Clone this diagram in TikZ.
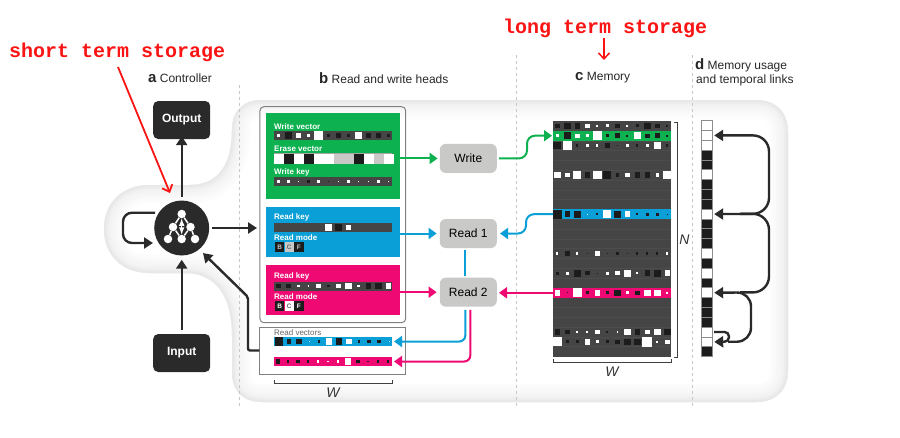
\documentclass[tikz,border=0pt]{standalone}
\usepackage{fontspec}
\setmainfont{Liberation Sans}
\setmonofont{Liberation Mono}
\usetikzlibrary{positioning,arrows.meta}

\definecolor{greenc}{HTML}{0DB14F}
\definecolor{bluec}{HTML}{0A9FD6}
\definecolor{pinkc}{HTML}{EE0A72}
\definecolor{darkc}{HTML}{2A2A2A}
\definecolor{stripc}{HTML}{454545}
\definecolor{boxc}{HTML}{C9C9C7}
\definecolor{redc}{HTML}{FA1414}
\colorlet{w}{white}
\definecolor{b}{HTML}{1C1C1C}
\definecolor{g}{HTML}{C8C8C6}

\tikzset{
    blackbox/.style={fill=darkc,rounded corners=5pt,minimum width=57pt,minimum height=38pt,inner sep=0pt,text=white,font=\fontsize{12}{14}\selectfont\bfseries},
    headbox/.style={fill=boxc,rounded corners=6pt,minimum width=57pt,minimum height=29pt,inner sep=0pt,font=\fontsize{12}{14}\selectfont},
    panel/.style={minimum width=134pt,inner sep=0pt,outer sep=0pt},
    strip/.style={minimum width=118pt,minimum height=9pt,inner sep=0pt,outer sep=0pt},
    panellabel/.style={anchor=west,inner sep=0pt,text=white,font=\fontsize{8}{9}\selectfont\bfseries},
    headlabel/.style={anchor=west,inner sep=0pt,text=black!85,font=\fontsize{12}{14}\selectfont},
    redlabel/.style={anchor=west,inner sep=0pt,text=redc,font=\fontsize{20}{22}\selectfont\ttfamily\bfseries},
    sizelabel/.style={inner sep=0pt,font=\fontsize{14}{16}\selectfont\itshape,text=black!80},
    modecell/.style={minimum size=9.4pt,inner sep=0pt,outer sep=0pt,font=\fontsize{6.5}{7}\selectfont\bfseries},
    usecell/.style={draw=black!45,line width=0.8pt,minimum width=11pt,minimum height=9.83pt,inner sep=0pt,outer sep=0pt},
    icondot/.style={circle,fill=white,minimum size=8.5pt,inner sep=0pt},
    blackarrow/.style={-{Triangle[length=9pt,width=11pt]},line width=2.4pt,draw=darkc},
    greenarrow/.style={-{Triangle[length=8pt,width=11pt]},line width=2pt,draw=greenc},
    bluearrow/.style={-{Triangle[length=8pt,width=11pt]},line width=2pt,draw=bluec},
    pinkarrow/.style={-{Triangle[length=8pt,width=11pt]},line width=2pt,draw=pinkc},
    redarrow/.style={-{Straight Barb[length=6pt,width=11pt]},line width=1.8pt,draw=redc},
    divider/.style={dashed,draw=black!22,line width=0.8pt},
    sizebar/.style={draw=black!75,line width=1pt},
}

% one row of squares, list is size/colour
\newcommand{\cellrow}[3]{
    \foreach \s/\c [count=\k from 0] in {#3}{
        \fill[\c] ({#1+10*\k-0.55*\s},{#2-0.55*\s}) rectangle ({#1+10*\k+0.55*\s},{#2+0.55*\s});
    }
}
\newcommand{\blobpath}{(262,100) -- (755,100) .. controls (776,100) and (788,112) .. (788,133) -- (788,370) .. controls (788,390) and (776,402) .. (756,402) -- (262,402) .. controls (243,402) and (232,391) .. (232,372) -- (232,335) .. controls (232,295) and (215,273) .. (185,273) -- (150,273) .. controls (122,273) and (104,255) .. (104,229) .. controls (104,203) and (122,185) .. (150,185) -- (190,185) .. controls (218,185) and (232,165) .. (232,130) .. controls (232,111) and (243,100) .. (262,100) -- cycle}

\begin{document}
\begin{tikzpicture}[x=1pt,y=-1pt]
    \useasboundingbox (0,0) rectangle (900,437);

    % background
    \fill[white] \blobpath;
    \begin{scope}
        \clip \blobpath;
        \foreach \w/\c in {36/black!1,30/black!2,24/black!3,18/black!4,13/black!5,8/black!7,4/black!9}{
            \draw[line width=\w pt,draw=\c] \blobpath;
        }
    \end{scope}

    \draw[divider] (239,85) -- (239,407);
    \draw[divider] (516,55) -- (516,407);
    \draw[divider] (692,55) -- (692,407);

    % titles
    \node[redlabel] (shortlabel) at (9,52) {short term storage};
    \node[redlabel] (longlabel) at (503,28) {long term storage};
    \node[headlabel] (titlea) at (148,78) {{\fontsize{15}{15}\selectfont\bfseries a} Controller};
    \node[headlabel] (titleb) at (319,78) {{\fontsize{15}{15}\selectfont\bfseries b} Read and write heads};
    \node[headlabel] (titlec) at (575,78) {{\fontsize{15}{15}\selectfont\bfseries c} Memory};
    \node[headlabel] (titled) at (695,65) {{\fontsize{15}{15}\selectfont\bfseries d} Memory usage};
    \node[headlabel] (titled2) at (696,80) {and temporal links};

    % controller
    \node[circle,fill=darkc,minimum size=55pt,inner sep=0pt] (ctrl) at (181.7,228) {};
    \node[blackbox] (output) at (181.7,120) {Output};
    \node[blackbox] (input) at (181.7,353) {Input};
    \node[icondot] (d1) at (181.7,214) {};
    \node[icondot] (d2) at (173,227) {};
    \node[icondot] (d3) at (190.5,227) {};
    \node[icondot] (d4) at (168,239) {};
    \node[icondot] (d5) at (181.7,239) {};
    \node[icondot] (d6) at (195,239) {};
    \draw[white,line width=1.5pt] (d1) -- (d2) (d1) -- (d3) (d2) -- (d4) (d2) -- (d5) (d3) -- (d5) (d3) -- (d6);
    \draw[white,line width=1.5pt,<->,>=latex] (d1) -- (d5);

    \draw[blackarrow] ([yshift=3pt]ctrl.north) -- ([yshift=3pt]output.south);
    \draw[blackarrow] ([yshift=4pt]input.north) -- ([yshift=-4pt]ctrl.south);
    \coordinate (loopstart) at (155,212.7);
    \coordinate (loopend) at (153,243);
    \draw[blackarrow,rounded corners=9pt] (loopstart) -- (123,212.7) -- (123,243) -- (loopend);
    \coordinate (shortstart) at (118,67);
    \coordinate (shortend) at (170,193);
    \draw[redarrow] (shortstart) -- (shortend);
    \coordinate (longstart) at (604,38);
    \coordinate (longend) at (604,60);
    \draw[redarrow,line width=1.5pt] (longstart) -- (longend);

    % heads panel
    \node[draw=black!50,line width=1pt,rounded corners=4pt,minimum width=145.7pt,minimum height=216pt,inner sep=0pt] (headpanel) at (332.8,214.7) {};
    \node[panel,fill=greenc,minimum height=86.3pt] (greenbox) at (333,156) {};
    \node[panel,fill=bluec,minimum height=50pt] (bluebox) at (333,232.3) {};
    \node[panel,fill=pinkc,minimum height=50pt] (pinkbox) at (333,290) {};

    \node[panellabel] (wvlabel) at (274,127) {Write vector};
    \node[strip,fill=stripc] (wvstrip) at (333,135.5) {};
    \cellrow{278.5}{135.5}{3/w,6/b,4/w,2/w,8/w,2/b,5/b,2/b,6/w,4/b,4/b,3/b}
    \node[panellabel] (evlabel) at (274,149) {Erase vector};
    \node[strip,fill=black!35,minimum height=11pt] (evstrip) at (333,158.8) {};
    \cellrow{279}{158.8}{8.6/w,8.6/b,8.6/w,8.6/b,8.6/w,8.6/w,8.6/g,8.6/g,8.6/b,8.6/w,8.6/g,8.6/w}
    \node[panellabel] (wklabel) at (274,172) {Write key};
    \node[strip,fill=stripc] (wkstrip) at (333,181.5) {};
    \cellrow{278.5}{181.5}{2/w,2/w,1.5/w,2/b,2/w,1/b,0.6/w,2/w,0.6/w,1/w,2/w,1/w}

    \node[panellabel] (rk1label) at (274,217) {Read key};
    \node[strip,fill=stripc] (rk1strip) at (333,227.5) {};
    \cellrow{278.5}{227.5}{0/w,0/w,0/w,0/w,0/w,7/w,6/b,5/w}
    \node[panellabel] (rm1label) at (274,237.5) {Read mode};
    \node[modecell,fill=b,text=g] (b1) at (279.6,247) {B};
    \node[modecell,fill=g,text=black!60,right=0.2pt of b1] (c1) {C};
    \node[modecell,fill=b,text=g,right=0.2pt of c1] (f1) {F};

    \node[panellabel] (rk2label) at (274,276) {Read key};
    \node[strip,fill=stripc] (rk2strip) at (333,286) {};
    \cellrow{278.5}{286}{4/b,4/b,2/w,1/w,4/w,2/b,4/w,6/w,2/w,5/b,6/b,5/w}
    \node[panellabel] (rm2label) at (274,297) {Read mode};
    \node[modecell,fill=b,text=white] (b2) at (279.6,306) {B};
    \node[modecell,fill=white,text=black!60,right=0.2pt of b2] (c2) {C};
    \node[modecell,fill=b,text=white,right=0.2pt of c2] (f2) {F};

    % read vectors
    \node[draw=black!50,line width=1pt,minimum width=145.7pt,minimum height=47pt,inner sep=0pt] (vecbox) at (332.8,350.5) {};
    \node[panellabel,text=black!60,font=\fontsize{8}{9}\selectfont] (vectitle) at (274,333) {Read vectors};
    \node[strip,fill=bluec] (bluevec) at (333,341.5) {};
    \cellrow{279}{341.5}{8/b,4/b,5/b,0.6/w,2/b,6/w,6/b,5/w,2/b,3/b,3/b,0.6/w}
    \node[strip,fill=pinkc] (pinkvec) at (333,361.5) {};
    \cellrow{278}{361.5}{4/b,2/b,3/b,2/b,2/w,1/w,2/w,6/w,3/b,1/b,2/b,2/b}
    \draw[sizebar] (274,380) -- (274,383) -- (392,383) -- (392,380);
    \node[sizelabel] (wleft) at (333,393) {W};

    % heads
    \node[headbox] (write) at (468.3,158.4) {Write};
    \node[headbox] (read1) at (468.3,233.5) {Read 1};
    \node[headbox] (read2) at (468.3,292.2) {Read 2};

    % memory
    \node[fill=stripc,minimum width=118pt,minimum height=235.5pt,inner sep=0pt,outer sep=0pt] (memory) at (612,239) {};
    \foreach \i in {1,...,23}{
        \draw[black!70,line width=0.5pt] (553,{121.2+9.8*\i}) -- (671,{121.2+9.8*\i});
    }
    \fill[greenc] (553,131) rectangle (671,140.6);
    \fill[bluec] (553,209.4) rectangle (671,219);
    \fill[pinkc] (553,288) rectangle (671,297.6);
    \cellrow{557.3}{125.8}{4/b,6/b,5/b,4/w,2/w,3/w,4/b,2/w,3/b,6/b,4/b,2/b}
    \cellrow{557.3}{135.7}{3/w,6/b,4/w,3/w,8/w,3/b,5/b,2/b,6/w,4/b,5/b,2/b}
    \cellrow{557.3}{145.4}{7/b,8/w,2/b,3/w,2/w,5/b,1/b,3/w,2/b,3/w,6/w,2/b}
    \cellrow{557.3}{175}{6/w,4/w,7/w,5/b,8/w,7/b,3/b,4/w,5/b,5/b,3/w,7/w}
    \cellrow{557.3}{214.2}{8/b,5/b,6/b,0.6/w,2/b,7/w,6/b,5/w,2/b,3/b,3/b,0.6/b}
    \cellrow{557.3}{253.5}{2/w,5/b,2/w,1/b,5/w,1/b,3/b,1/b,2/b,2/b,2/b,2/w}
    \cellrow{557.3}{273.2}{3/b,3/w,6/b,4/b,1/b,3/w,4/w,6/w,2/w,5/b,6/b,5/w}
    \cellrow{557.3}{292.8}{5/w,0.6/b,8/w,3/b,5/w,3/b,6/b,3/w,4/b,6/w,6/w,2/w}
    \cellrow{557.3}{332}{5/b,4/b,2/w,2/w,4/w,2/b,1/w,6/w,5/b,4/w,6/w,6/b}
    \cellrow{557.3}{341.8}{8/w,3/b,3/b,5/w,3/w,3/b,4/b,6/b,6/b,9/w,2/w,4/w}
    \draw[sizebar] (553,359) -- (553,362) -- (671,362) -- (671,359);
    \node[sizelabel] (wright) at (612,372) {W};
    \draw[sizebar] (674,122) -- (677,122) -- (677,357) -- (674,357);
    \node[sizelabel] (nright) at (684.5,240) {N};

    % connectors
    \coordinate (memgreen) at (552,135.7);
    \coordinate (memblue) at (553,214.2);
    \coordinate (mempink) at (553,292.8);
    \draw[blackarrow] ([xshift=3pt]ctrl.east) -- ([xshift=-9pt]bluebox.west |- ctrl);
    \draw[blackarrow,rounded corners=2pt] (vecbox.west) -- (248,350.5) -- (248,297) -- (203,253);
    \draw[greenarrow] (greenbox.east |- write) -- ([xshift=-2pt]write.west);
    \draw[bluearrow] (bluebox.east |- read1) -- ([xshift=-3pt]read1.west);
    \draw[pinkarrow] (pinkbox.east |- read2) -- ([xshift=-3pt]read2.west);
    \draw[greenarrow,rounded corners=8pt] ([xshift=2pt]write.east) -- (527,158.4) -- (527,135.7) -- (memgreen);
    \draw[bluearrow,rounded corners=8pt] (memblue) -- (526,214.2) -- (526,233.5) -- ([xshift=3pt]read1.east);
    \draw[pinkarrow] (mempink) -- ([xshift=2pt]read2.east |- mempink);
    \draw[draw=bluec,line width=2pt] ([xshift=-3pt,yshift=-2pt]read1.south) -- ([xshift=-3pt,yshift=2pt]read2.north);
    \draw[bluearrow,rounded corners=6pt] ([xshift=-3pt,yshift=-3pt]read2.south) |- ([xshift=2pt]bluevec.east);
    \draw[pinkarrow,rounded corners=6pt] ([xshift=2pt,yshift=-3pt]read2.south) |- ([xshift=2pt]pinkvec.east);

    % memory usage
    \foreach \c [count=\i] in {w,w,w,b,b,w,b,b,b,w,b,b,b,w,b,w,b,w,b,b,b,w,w,b}{
        \node[usecell,fill=\c] (u\i) at (706.7,{120.7+9.83*(\i-0.5)}) {};
    }
    \draw[blackarrow,rounded corners=16pt] (740,213.8) -- (769,213.8) -- (769,135.4) -- ([xshift=2pt]u2.east);
    \draw[blackarrow,rounded corners=16pt] (740,292.4) -- (769,292.4) -- (769,213.8) -- ([xshift=2pt]u10.east);
    \draw[blackarrow,rounded corners=14pt] (728,341.7) -- (751,341.7) -- (751,292.4) -- ([xshift=2pt]u18.east);
    \draw[blackarrow,rounded corners=4.5pt] ([xshift=2pt]u22.east) -- (729,331.9) -- (729,341.7) -- ([xshift=2pt]u23.east);
\end{tikzpicture}
\end{document}
